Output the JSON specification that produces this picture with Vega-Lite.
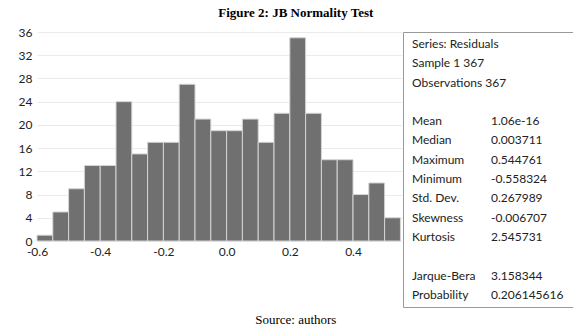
{
  "$schema": "https://vega.github.io/schema/vega-lite/v6.json",
  "background": "white",
  "padding": {"left": 18, "top": 7, "right": 0, "bottom": 0},
  "title": {"text": "Figure 2: JB Normality Test", "font": "Liberation Serif", "fontSize": 13, "fontWeight": "bold", "color": "black", "anchor": "middle", "offset": 6},
  "config": {"view": {"stroke": null}, "font": "Lato"},
  "vconcat": [
    {
      "title": {"text": "Source: authors", "orient": "bottom", "font": "Liberation Serif", "fontSize": 13, "fontWeight": "normal", "color": "black", "anchor": "middle", "offset": 6},
      "spacing": 0,
      "hconcat": [
        {
          "width": 365,
          "height": 209,
          "data": {"values": [
            {"bin_start": -0.60, "bin_end": -0.55, "count": 1},
            {"bin_start": -0.55, "bin_end": -0.50, "count": 5},
            {"bin_start": -0.50, "bin_end": -0.45, "count": 9},
            {"bin_start": -0.45, "bin_end": -0.40, "count": 13},
            {"bin_start": -0.40, "bin_end": -0.35, "count": 13},
            {"bin_start": -0.35, "bin_end": -0.30, "count": 24},
            {"bin_start": -0.30, "bin_end": -0.25, "count": 15},
            {"bin_start": -0.25, "bin_end": -0.20, "count": 17},
            {"bin_start": -0.20, "bin_end": -0.15, "count": 17},
            {"bin_start": -0.15, "bin_end": -0.10, "count": 27},
            {"bin_start": -0.10, "bin_end": -0.05, "count": 21},
            {"bin_start": -0.05, "bin_end": 0.00, "count": 19},
            {"bin_start": 0.00, "bin_end": 0.05, "count": 19},
            {"bin_start": 0.05, "bin_end": 0.10, "count": 21},
            {"bin_start": 0.10, "bin_end": 0.15, "count": 17},
            {"bin_start": 0.15, "bin_end": 0.20, "count": 22},
            {"bin_start": 0.20, "bin_end": 0.25, "count": 35},
            {"bin_start": 0.25, "bin_end": 0.30, "count": 22},
            {"bin_start": 0.30, "bin_end": 0.35, "count": 14},
            {"bin_start": 0.35, "bin_end": 0.40, "count": 14},
            {"bin_start": 0.40, "bin_end": 0.45, "count": 8},
            {"bin_start": 0.45, "bin_end": 0.50, "count": 10},
            {"bin_start": 0.50, "bin_end": 0.55, "count": 4}
          ]},
          "mark": {"type": "rect", "color": "#707070", "stroke": "#d4d4d4", "strokeWidth": 1},
          "encoding": {
            "x": {"field": "bin_start", "type": "quantitative",
                  "scale": {"domain": [-0.6, 0.555], "nice": false, "zero": false},
                  "axis": {"title": null, "values": [-0.6, -0.4, -0.2, 0, 0.2, 0.4], "grid": false, "domain": false, "ticks": false, "labelPadding": 5, "labelFontSize": 12, "labelColor": "#222", "labelFlush": false,
                           "labelExpr": "datum.value < 0 ? '-' + format(-datum.value, '.1f') : format(datum.value, '.1f')"}},
            "x2": {"field": "bin_end"},
            "y": {"field": "count", "type": "quantitative",
                  "scale": {"domain": [0, 36], "nice": false},
                  "axis": {"title": null, "values": [0, 4, 8, 12, 16, 20, 24, 28, 32, 36], "grid": true, "gridColor": "#ebebeb", "domain": false, "ticks": false, "labelPadding": 5, "labelFontSize": 12, "labelColor": "#222"}},
            "y2": {"datum": 0}
          }
        },
        {
          "width": 170,
          "height": 275,
          "view": {"stroke": "#999999", "strokeWidth": 1},
          "data": {"values": [
            {"line": 0, "col": "label", "text": "Series: Residuals"},
            {"line": 1, "col": "label", "text": "Sample 1 367"},
            {"line": 2, "col": "label", "text": "Observations 367"},
            {"line": 4, "col": "label", "text": "Mean"},
            {"line": 4, "col": "value", "text": "1.06e-16"},
            {"line": 5, "col": "label", "text": "Median"},
            {"line": 5, "col": "value", "text": "0.003711"},
            {"line": 6, "col": "label", "text": "Maximum"},
            {"line": 6, "col": "value", "text": "0.544761"},
            {"line": 7, "col": "label", "text": "Minimum"},
            {"line": 7, "col": "value", "text": "-0.558324"},
            {"line": 8, "col": "label", "text": "Std. Dev."},
            {"line": 8, "col": "value", "text": "0.267989"},
            {"line": 9, "col": "label", "text": "Skewness"},
            {"line": 9, "col": "value", "text": "-0.006707"},
            {"line": 10, "col": "label", "text": "Kurtosis"},
            {"line": 10, "col": "value", "text": "2.545731"},
            {"line": 12, "col": "label", "text": "Jarque-Bera"},
            {"line": 12, "col": "value", "text": "3.158344"},
            {"line": 13, "col": "label", "text": "Probability"},
            {"line": 13, "col": "value", "text": "0.206145616"}
          ]},
          "mark": {"type": "text", "align": "left", "baseline": "middle", "fontSize": 12, "color": "#222", "font": "Lato"},
          "encoding": {
            "x": {"field": "col", "type": "nominal", "scale": {"type": "point", "domain": ["label", "value"], "range": [9, 88], "padding": 0}, "axis": null},
            "y": {"field": "line", "type": "quantitative", "scale": {"domain": [-0.62, 13.63], "reverse": true, "nice": false, "zero": false}, "axis": null},
            "text": {"field": "text"}
          }
        }
      ]
    }
  ]
}
